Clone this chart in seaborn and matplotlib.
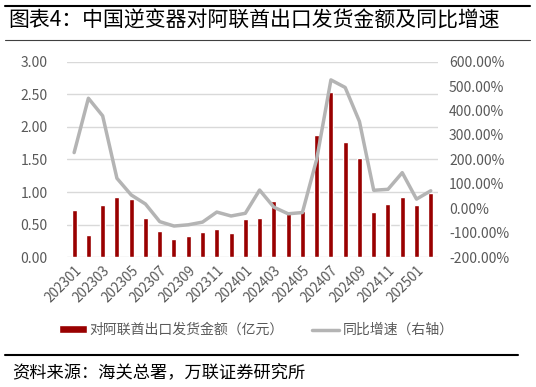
import numpy as np
import pandas as pd
import matplotlib
matplotlib.use('Agg')
import matplotlib.pyplot as plt
import seaborn as sns
from matplotlib.patches import Patch
from matplotlib.lines import Line2D
from matplotlib.ticker import FuncFormatter, MultipleLocator

# 月份（横轴）
months = ['202301', '202302', '202303', '202304', '202305', '202306',
          '202307', '202308', '202309', '202310', '202311', '202312',
          '202401', '202402', '202403', '202404', '202405', '202406',
          '202407', '202408', '202409', '202410', '202411', '202412',
          '202501', '202502']
# 对阿联酋出口发货金额（亿元）
amount = [0.72, 0.34, 0.80, 0.92, 0.89, 0.61, 0.40, 0.28, 0.32, 0.39,
          0.44, 0.37, 0.58, 0.60, 0.86, 0.70, 0.71, 1.87, 2.53, 1.77,
          1.52, 0.70, 0.81, 0.93, 0.80, 0.99]
# 同比增速（%）
yoy = [228, 450, 378, 123, 55, 18, -54, -72, -67, -56, -15, -31, -20,
       75, 5, -22, -17, 200, 525, 494, 355, 74, 78, 146, 38, 72]

bar_label = '对阿联酋出口发货金额（亿元）'
line_label = '同比增速（右轴）'
title = '图表4：中国逆变器对阿联酋出口发货金额及同比增速'
source = '资料来源：海关总署，万联证券研究所'

bar_color = '#990000'
line_color = '#B4B4B4'
grid_color = '#D9D9D9'
tick_color = '#595959'

sns.set_theme(style='white')
plt.rcParams['font.family'] = ['Noto Sans CJK SC', 'DejaVu Sans']

df = pd.DataFrame({'month': months, 'amount': amount, 'yoy': yoy})
df['pos'] = np.arange(len(df))

fig = plt.figure(figsize=(5.36, 3.87), dpi=100)
ax = fig.add_axes([0.125, 0.335, 0.692, 0.506])

# 柱状图
sns.barplot(data=df, x='month', y='amount', color=bar_color, width=0.35,
            saturation=1, ax=ax)
ax.set_xlim(-0.5, len(df) - 0.5)
ax.set_ylim(0, 3)
ax.yaxis.set_major_locator(MultipleLocator(0.5))
ax.yaxis.set_major_formatter(FuncFormatter(lambda v, p: f'{v:.2f}'))
ax.yaxis.grid(True, color=grid_color, lw=1)
ax.set_axisbelow(True)
ax.set_xticks(range(0, len(df), 2))
ax.set_xticklabels(months[::2], rotation=45, ha='right', rotation_mode='anchor')
ax.tick_params(axis='x', length=0, pad=4, labelsize=9.8, labelcolor=tick_color)
ax.tick_params(axis='y', length=0, pad=14, labelsize=10, labelcolor=tick_color)
ax.set_xlabel('')
ax.set_ylabel('')

# 折线（右轴）
ax2 = ax.twinx()
sns.lineplot(data=df, x='pos', y='yoy', color=line_color, linewidth=2.5, ax=ax2)
ax2.set_ylim(-200, 600)
ax2.yaxis.set_major_locator(MultipleLocator(100))
ax2.yaxis.set_major_formatter(FuncFormatter(lambda v, p: f'{v:.2f}%'))
ax2.tick_params(axis='y', length=0, pad=8, labelsize=10, labelcolor=tick_color)
ax2.set_ylabel('')
ax2.set_xlim(-0.5, len(df) - 0.5)

for a in (ax, ax2):
    for s in a.spines.values():
        s.set_visible(False)

handles = [Patch(facecolor=bar_color, label=bar_label),
           Line2D([0], [0], color=line_color, lw=2.5, label=line_label)]
fig.legend(handles=handles, loc='center', bbox_to_anchor=(0.478, 0.147),
           ncol=2, frameon=False, fontsize=10, handlelength=2.0,
           handleheight=0.5, handletextpad=0.2, columnspacing=2.0,
           labelcolor=tick_color)

# 标题和来源
fig.add_artist(Line2D([5 / 536, 530 / 536], [1 - 5.7 / 387] * 2, color='black', lw=1.5))
fig.add_artist(Line2D([5 / 536, 530 / 536], [1 - 39.5 / 387] * 2, color='#404040', lw=0.8))
fig.text(8 / 536, 1 - 21 / 387, title, fontsize=15, va='center', ha='left', color='black')
fig.add_artist(Line2D([5 / 536, 518 / 536], [1 - 355 / 387] * 2, color='black', lw=1.5))
fig.text(12 / 536, 1 - 373 / 387, source, fontsize=12.4, va='center', ha='left', color='black')

fig.savefig('out.png', dpi=100)
